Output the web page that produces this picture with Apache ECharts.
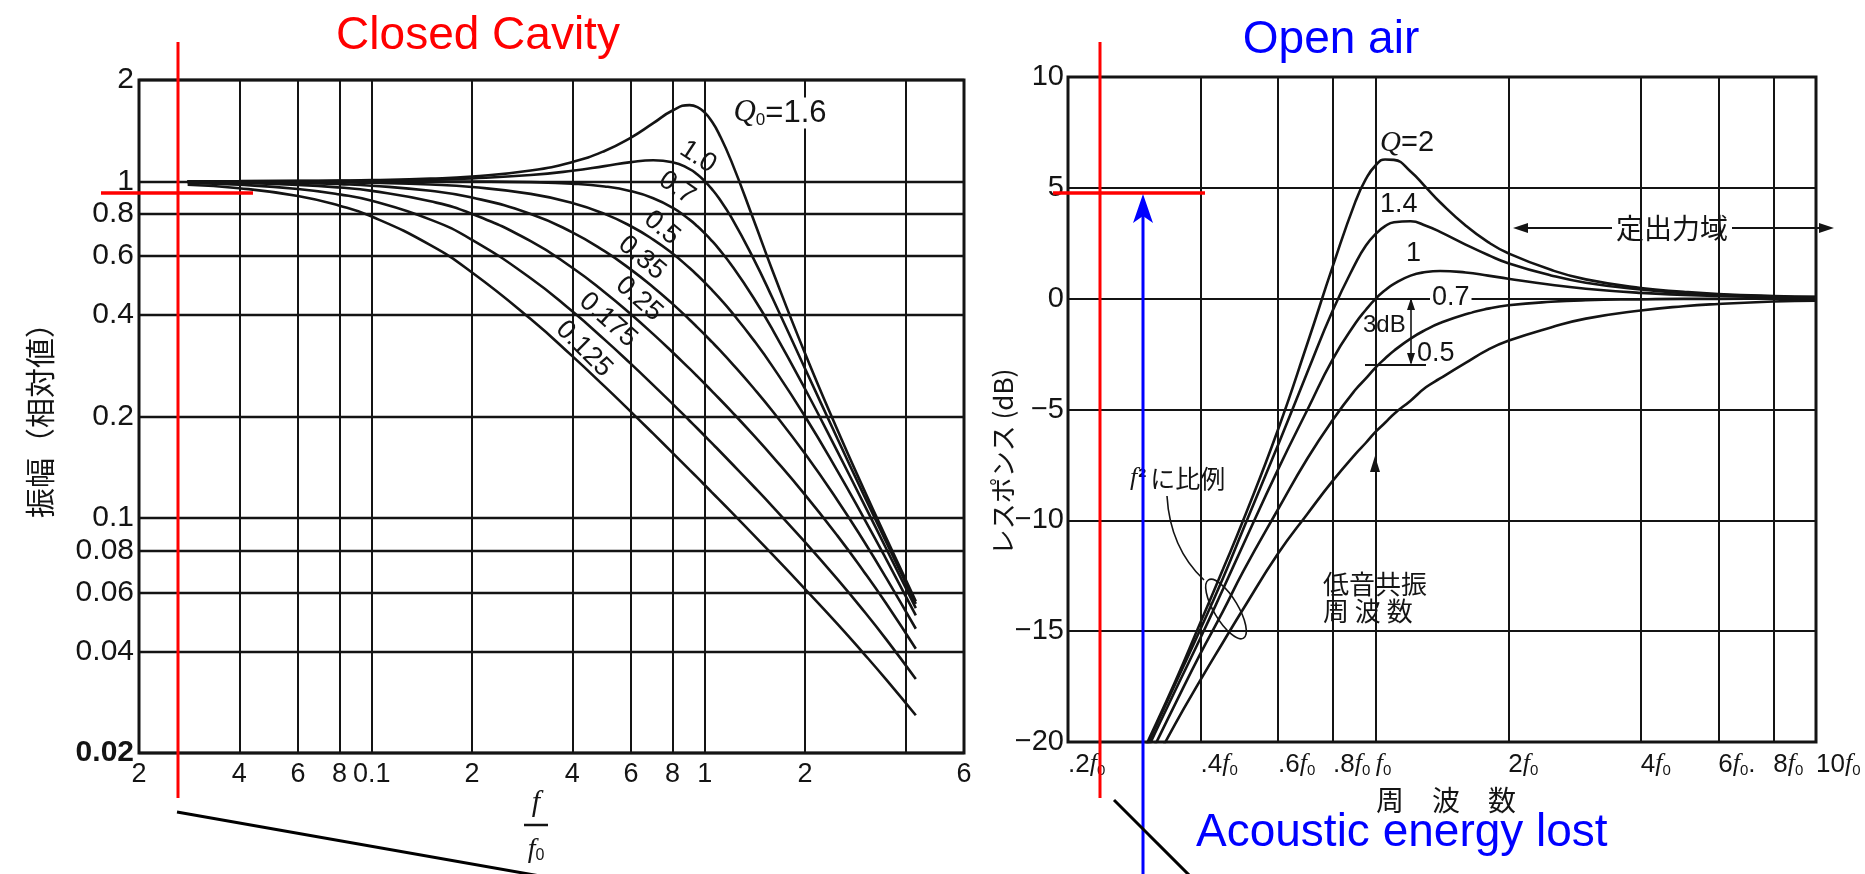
<!DOCTYPE html>
<html>
<head>
<meta charset="utf-8">
<title>Closed cavity / open air</title>
<script src="https://cdn.jsdelivr.net/npm/echarts@6/dist/echarts.min.js"></script>
<style>
  html, body { margin: 0; padding: 0; background: #fff; }
  #chart { width: 1865px; height: 874px; }
</style>
</head>
<body>
<div id="chart"></div>
<script>
// ---- left: closed cavity, amplitude (relative) vs f/f0 ----
const cavityFreq = [0.028, 0.04, 0.06, 0.08, 0.1, 0.15, 0.2, 0.3, 0.4, 0.5, 0.6, 0.7, 0.8, 0.9, 0.95, 1.0, 1.05, 1.1, 1.2, 1.4, 1.6, 2.0, 2.5, 3.0, 3.5, 4.3];
const ampQ160 = [1.0006, 1.0013, 1.0029, 1.0052, 1.0081, 1.0183, 1.033, 1.0763, 1.141, 1.2308, 1.3481, 1.4882, 1.6231, 1.6843, 1.662, 1.6, 1.5056, 1.3911, 1.15, 0.7699, 0.5397, 0.3077, 0.1826, 0.1217, 0.0873, 0.0565];
const ampQ100 = [1.0004, 1.0008, 1.0018, 1.0032, 1.005, 1.0112, 1.0198, 1.0436, 1.0748, 1.1094, 1.1399, 1.1546, 1.1399, 1.0871, 1.0471, 1.0, 0.9479, 0.893, 0.7824, 0.5891, 0.4475, 0.2774, 0.172, 0.117, 0.0849, 0.0555];
const ampQ070 = [1.0, 1.0, 0.9999, 0.9998, 0.9997, 0.9993, 0.9984, 0.9942, 0.9843, 0.9655, 0.9348, 0.8908, 0.8346, 0.7694, 0.735, 0.7, 0.6651, 0.6308, 0.565, 0.4508, 0.3614, 0.2414, 0.1575, 0.1102, 0.0812, 0.0539];
const ampQ050 = [0.9992, 0.9984, 0.9964, 0.9937, 0.9901, 0.978, 0.9615, 0.9174, 0.8621, 0.8, 0.7353, 0.6711, 0.6098, 0.5525, 0.5256, 0.5, 0.4756, 0.4525, 0.4098, 0.3378, 0.2809, 0.2, 0.1379, 0.1, 0.0755, 0.0513];
const ampQ035 = [0.9976, 0.9951, 0.9891, 0.9808, 0.9705, 0.9369, 0.8951, 0.7999, 0.705, 0.6198, 0.5465, 0.4845, 0.4322, 0.3878, 0.3682, 0.35, 0.3331, 0.3175, 0.2893, 0.2431, 0.207, 0.1549, 0.1128, 0.0853, 0.0664, 0.0468];
const ampQ025 = [0.9946, 0.989, 0.9757, 0.958, 0.9365, 0.8719, 0.8002, 0.664, 0.5534, 0.4682, 0.4026, 0.3514, 0.3105, 0.2774, 0.2631, 0.25, 0.238, 0.227, 0.2075, 0.176, 0.1518, 0.117, 0.0885, 0.0693, 0.0557, 0.0408];
const ampQ0175 = [0.9882, 0.9763, 0.949, 0.9143, 0.8748, 0.7692, 0.67, 0.5152, 0.4107, 0.3385, 0.2867, 0.248, 0.2181, 0.1943, 0.1842, 0.175, 0.1666, 0.159, 0.1455, 0.1241, 0.1078, 0.0846, 0.0657, 0.0529, 0.0436, 0.0332];
const ampQ0125 = [0.9765, 0.9538, 0.9042, 0.8461, 0.7857, 0.6461, 0.5359, 0.3896, 0.3023, 0.2457, 0.2065, 0.1778, 0.156, 0.1388, 0.1316, 0.125, 0.119, 0.1136, 0.1041, 0.089, 0.0776, 0.0614, 0.0484, 0.0395, 0.0331, 0.0259];
const cavityXTicks = [0.02, 0.04, 0.06, 0.08, 0.1, 0.2, 0.4, 0.6, 0.8, 1, 2, 4, 6];
const cavityXLabels = ['2', '4', '6', '8', '0.1', '2', '4', '6', '8', '1', '2', '', '6'];
const cavityYTicks = [0.02, 0.04, 0.06, 0.08, 0.1, 0.2, 0.4, 0.6, 0.8, 1, 2];
const cavityYLabels = ['{b|0.02}', '0.04', '0.06', '0.08', '0.1', '0.2', '0.4', '0.6', '0.8', '1', '2'];

// ---- right: open air, response (dB) vs frequency ----
const openFreq = [0.25, 0.3, 0.35, 0.4, 0.45, 0.5, 0.6, 0.7, 0.8, 0.9, 0.95, 1.0, 1.05, 1.1, 1.2, 1.3, 1.4, 1.6, 1.8, 2, 2.5, 3, 4, 5, 6, 8, 10];
const respQ20 = [-23.6, -20.2, -17.3, -14.6, -12.2, -10.0, -5.9, -2.0, 1.5, 4.4, 5.4, 6.02, 6.28, 6.26, 5.74, 5.02, 4.35, 3.3, 2.55, 2.05, 1.3, 0.87, 0.48, 0.31, 0.21, 0.12, 0.08];
const respQ14 = [-23.7, -20.3, -17.4, -14.9, -12.6, -10.4, -6.6, -3.3, -0.5, 1.6, 2.4, 2.92, 3.27, 3.45, 3.49, 3.29, 3.01, 2.44, 1.97, 1.6, 1.05, 0.72, 0.41, 0.26, 0.18, 0.1, 0.07];
const respQ10 = [-23.8, -20.5, -17.7, -15.3, -13.1, -11.1, -7.7, -5.0, -2.7, -1.1, -0.5, 0.0, 0.38, 0.67, 1.04, 1.2, 1.25, 1.18, 1.04, 0.9, 0.63, 0.45, 0.26, 0.17, 0.12, 0.07, 0.04];
const respQ07 = [-24.1, -21.0, -18.3, -16.0, -14.1, -12.3, -9.5, -7.2, -5.45, -4.1, -3.6, -3.1, -2.7, -2.35, -1.8, -1.4, -1.1, -0.7, -0.45, -0.3, -0.14, -0.07, -0.03, -0.01, -0.01, 0, 0];
const respQ05 = [-24.6, -21.7, -19.2, -17.2, -15.5, -14.0, -11.5, -9.7, -8.2, -7.0, -6.5, -6.0, -5.6, -5.2, -4.6, -4.0, -3.6, -2.9, -2.3, -1.9, -1.3, -0.9, -0.53, -0.34, -0.24, -0.13, -0.09];
const openXTicks = [0.2, 0.4, 0.6, 0.8, 1, 2, 4, 6, 8, 10];
const openXLabels = ['.2{i|f}{s|0}', '.4{i|f}{s|0}', '.6{i|f}{s|0}', '.8{i|f}{s|0}', '{i|f}{s|0}', '2{i|f}{s|0}', '4{i|f}{s|0}', '6{i|f}{s|0}.', '8{i|f}{s|0}', '10{i|f}{s|0}'];

const INK = '#141414';
const NARROW = '"Liberation Sans Narrow", "Liberation Sans", Arial, sans-serif';
const SERIF = '"Liberation Serif", "DejaVu Serif", serif';
const CJK = '"Noto Sans CJK JP", sans-serif';
const SANS = '"Liberation Sans", Arial, sans-serif';

const pairs = (xs, ys) => xs.map((x, i) => [x, ys[i]]);
const tickText = (ticks, labels) => (v) => {
  const i = ticks.findIndex(t => Math.abs(Math.log10(t) - Math.log10(v)) < 1e-6);
  return i < 0 ? '' : labels[i];
};

const curve = (data, xi) => ({
  type: 'line', xAxisIndex: xi, yAxisIndex: xi, data, smooth: true,
  symbol: 'none', silent: true, clip: true,
  lineStyle: { color: INK, width: 2.6 }, z: 3
});

const text = (x, y, str, font, extra) => ({
  type: 'text', x, y, z: 60, silent: true,
  style: Object.assign({ text: str, font, fill: INK, align: 'center', verticalAlign: 'middle' }, extra || {})
});
const line = (x1, y1, x2, y2, color, w) => ({
  type: 'line', z: 70, silent: true, shape: { x1, y1, x2, y2 }, style: { stroke: color, lineWidth: w }
});
const poly = (points, color) => ({
  type: 'polygon', z: 70, silent: true, shape: { points }, style: { fill: color }
});
const turned = (el, angle) => Object.assign(el, { rotation: angle * Math.PI / 180 });

const subRich = {
  q: { font: 'italic 31px ' + SERIF, fill: INK },
  s: { font: '17px ' + SANS, verticalAlign: 'bottom', padding: [13, 0, 0, 0] },
  n: { font: '31px ' + NARROW }
};

const graphic = [
  // headings
  text(478, 36, 'Closed Cavity', '46px ' + SANS, { fill: '#ff0000' }),
  text(1331, 40, 'Open air', '46px ' + SANS, { fill: '#0000ff' }),
  text(1196, 833, 'Acoustic energy lost', '46px ' + SANS, { fill: '#0000ff', align: 'left' }),

  // left axis titles
  turned(text(40, 413, '振幅（相対値）', '30px ' + CJK), 90),
  text(536, 803, 'f', 'italic 30px ' + SERIF),
  line(524, 825, 548, 825, INK, 2.5),
  text(536, 850, '{i|f}{s|0}', '', { rich: { i: { font: 'italic 28px ' + SERIF }, s: { font: '16px ' + SANS, padding: [12, 0, 0, 0] } } }),

  // left curve labels
  text(780, 113, '{q|Q}{s|0}{n|=1.6}', '', { rich: subRich, backgroundColor: '#fff', padding: [0, 3] }),
  turned(text(698, 157, '1.0', '27px ' + NARROW), -33),
  turned(text(677, 188, '0.7', '27px ' + NARROW), -35),
  turned(text(662, 228, '0.5', '27px ' + NARROW), -40),
  turned(text(642, 258, '0.35', '27px ' + NARROW), -40),
  turned(text(639, 299, '0.25', '27px ' + NARROW), -42),
  turned(text(608, 320, '0.175', '27px ' + NARROW), -42),
  turned(text(584, 349, '0.125', '27px ' + NARROW), -45),

  // right axis titles
  turned(text(1003, 462, 'レスポンス (dB)', '26px ' + CJK), 90),
  text(1446, 800, '周　波　数', '28px ' + CJK),

  // right curve labels
  text(1380, 143, '{q|Q}{n|=2}', '', { align: 'left', rich: { q: { font: 'italic 29px ' + SERIF }, n: { font: '29px ' + NARROW } } }),
  text(1380, 205, '1.4', '27px ' + NARROW, { align: 'left' }),
  text(1406, 254, '1', '27px ' + NARROW, { align: 'left' }),
  text(1430, 298, '0.7', '27px ' + NARROW, { align: 'left', backgroundColor: '#fff', padding: [0, 2] }),
  text(1363, 325, '3dB', '24px ' + NARROW, { align: 'left' }),
  text(1417, 354, '0.5', '27px ' + NARROW, { align: 'left' }),
  line(1411, 300, 1411, 363, INK, 1.6),
  poly([[1411, 298], [1407, 310], [1415, 310]], INK),
  poly([[1411, 365], [1407, 353], [1415, 353]], INK),
  line(1365, 365, 1426, 365, INK, 1.8),

  text(1672, 228, '定出力域', '28px ' + CJK),
  line(1520, 228, 1612, 228, INK, 2),
  poly([[1513, 228], [1528, 223], [1528, 233]], INK),
  line(1732, 228, 1826, 228, INK, 2),
  poly([[1834, 228], [1819, 223], [1819, 233]], INK),

  text(1130, 478, '{i|f}{p|²}{c|に比例}', '', { align: 'left', rich: {
    i: { font: 'italic 26px ' + SERIF }, p: { font: 'bold 24px ' + SANS, padding: [0, 4, 0, 1] },
    c: { font: '25px ' + CJK } } }),
  { type: 'bezierCurve', z: 70, silent: true, shape: { x1: 1167, y1: 496, cpx1: 1170, cpy1: 548, x2: 1204, y2: 580 }, style: { stroke: INK, lineWidth: 1.6, fill: null } },
  { type: 'ellipse', z: 70, silent: true, x: 1226, y: 609, rotation: 31 * Math.PI / 180, shape: { cx: 0, cy: 0, rx: 12, ry: 34 }, style: { stroke: INK, lineWidth: 1.6, fill: null } },

  text(1323, 584, '低音共振', '26px ' + CJK, { align: 'left' }),
  text(1323, 611, '周 波 数', '26px ' + CJK, { align: 'left' }),
  poly([[1375, 456], [1370, 472], [1380, 472]], INK),

  // overlays
  line(178, 42, 178, 798, '#ff0000', 3),
  line(101, 193, 253, 193, '#ff0000', 3.5),
  line(177, 812, 540, 876, '#000', 3),
  line(1100, 42, 1100, 798, '#ff0000', 3),
  line(1053, 193, 1205, 193, '#ff0000', 3.5),
  line(1143, 215, 1143, 874, '#0000ff', 3),
  poly([[1143, 194], [1133, 223], [1143, 216], [1153, 223]], '#0000ff'),
  line(1114, 800, 1190, 876, '#000', 3)
];

const chart = echarts.init(document.getElementById('chart'), null, { renderer: 'canvas' });

chart.setOption({
  backgroundColor: '#fff',
  animation: false,
  grid: [
    { left: 139, top: 80, width: 825, height: 673, show: true, borderColor: INK, borderWidth: 3 },
    { left: 1068, top: 77, width: 748, height: 665, show: true, borderColor: INK, borderWidth: 3 }
  ],
  xAxis: [
    {
      type: 'log', gridIndex: 0, logBase: 10, min: 0.02, max: 6,
      axisLine: { show: false, onZero: false }, splitLine: { show: false },
      axisTick: { show: true, inside: true, length: 673, customValues: cavityXTicks, lineStyle: { color: INK, width: 2 } },
      axisLabel: { customValues: cavityXTicks, formatter: tickText(cavityXTicks, cavityXLabels), margin: 8, color: INK, fontFamily: NARROW, fontSize: 27 }
    },
    {
      type: 'log', gridIndex: 1, logBase: 10, min: 0.2, max: 10,
      axisLine: { show: false, onZero: false }, splitLine: { show: false },
      axisTick: { show: true, inside: true, length: 665, customValues: openXTicks, lineStyle: { color: INK, width: 2 } },
      axisLabel: {
        customValues: openXTicks, formatter: tickText(openXTicks, openXLabels), margin: 9, align: 'left',
        color: INK, fontFamily: NARROW, fontSize: 26,
        rich: {
          i: { fontFamily: SERIF, fontStyle: 'italic', fontSize: 26, color: INK },
          s: { fontFamily: SANS, fontSize: 15, color: INK, padding: [12, 0, 0, 0] }
        }
      }
    }
  ],
  yAxis: [
    {
      type: 'log', gridIndex: 0, logBase: 10, min: 0.02, max: 2,
      axisLine: { show: false }, splitLine: { show: false },
      axisTick: { show: true, inside: true, length: 825, customValues: cavityYTicks, lineStyle: { color: INK, width: 2.4 } },
      axisLabel: {
        customValues: cavityYTicks, formatter: tickText(cavityYTicks, cavityYLabels), margin: 5,
        color: INK, fontFamily: NARROW, fontSize: 30,
        rich: { b: { fontFamily: NARROW, fontSize: 30, fontWeight: 'bold', color: INK } }
      }
    },
    {
      type: 'value', gridIndex: 1, min: -20, max: 10, interval: 5,
      axisLine: { show: false }, axisTick: { show: false },
      splitLine: { show: true, lineStyle: { color: INK, width: 2.2 } },
      axisLabel: { margin: 4, color: INK, fontFamily: NARROW, fontSize: 29, formatter: v => (v < 0 ? '\u2212' + (-v) : String(v)) }
    }
  ],
  series: [
    curve(pairs(cavityFreq, ampQ160), 0),
    curve(pairs(cavityFreq, ampQ100), 0),
    curve(pairs(cavityFreq, ampQ070), 0),
    curve(pairs(cavityFreq, ampQ050), 0),
    curve(pairs(cavityFreq, ampQ035), 0),
    curve(pairs(cavityFreq, ampQ025), 0),
    curve(pairs(cavityFreq, ampQ0175), 0),
    curve(pairs(cavityFreq, ampQ0125), 0),
    curve(pairs(openFreq, respQ20), 1),
    curve(pairs(openFreq, respQ14), 1),
    curve(pairs(openFreq, respQ10), 1),
    curve(pairs(openFreq, respQ07), 1),
    curve(pairs(openFreq, respQ05), 1)
  ],
  graphic
});

window.addEventListener('resize', () => chart.resize());
</script>
</body>
</html>
